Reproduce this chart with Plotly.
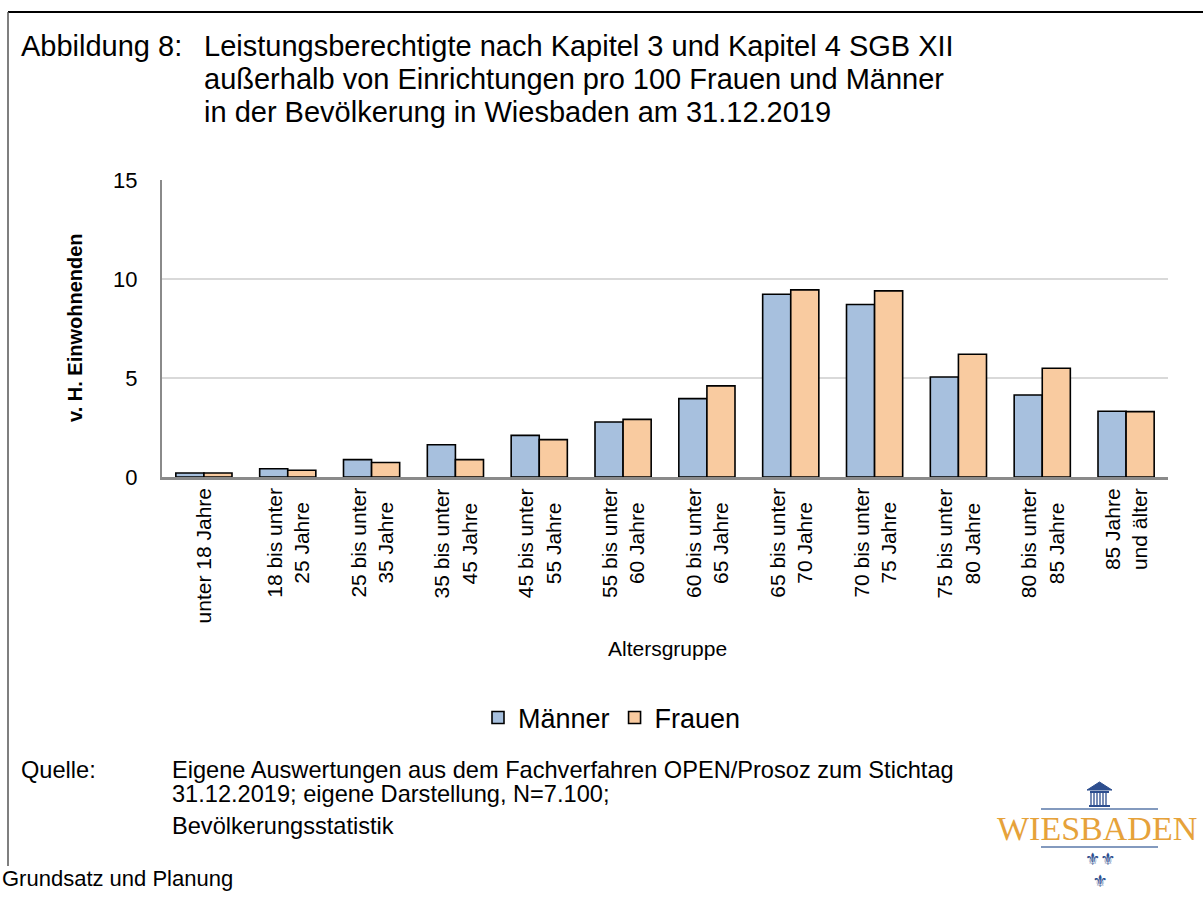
import plotly.graph_objects as go

categories = ["unter 18 Jahre", "18 bis unter 25 Jahre", "25 bis unter 35 Jahre",
              "35 bis unter 45 Jahre", "45 bis unter 55 Jahre", "55 bis unter 60 Jahre",
              "60 bis unter 65 Jahre", "65 bis unter 70 Jahre", "70 bis unter 75 Jahre",
              "75 bis unter 80 Jahre", "80 bis unter 85 Jahre", "85 Jahre und älter"]
tick_labels = ["unter 18 Jahre", "18 bis unter<br>25 Jahre", "25 bis unter<br>35 Jahre",
               "35 bis unter<br>45 Jahre", "45 bis unter<br>55 Jahre", "55 bis unter<br>60 Jahre",
               "60 bis unter<br>65 Jahre", "65 bis unter<br>70 Jahre", "70 bis unter<br>75 Jahre",
               "75 bis unter<br>80 Jahre", "80 bis unter<br>85 Jahre", "85 Jahre<br>und älter"]
maenner = [0.2, 0.42, 0.88, 1.63, 2.1, 2.78, 3.96, 9.23, 8.71, 5.05, 4.14, 3.32]
frauen = [0.2, 0.34, 0.73, 0.88, 1.89, 2.91, 4.6, 9.45, 9.4, 6.2, 5.49, 3.3]

W, H = 1203, 912
L, R, T, B = 162, 1168, 180, 477  # plot area in screen pixels
FONT = "Liberation Sans, Arial, sans-serif"


def px(x):
    return (x - L) / (R - L)


def py(y):
    return (B - y) / (B - T)


fig = go.Figure()
fig.add_trace(go.Bar(x=categories, y=maenner, name="Männer",
                     marker=dict(color="#A7C0DE", line=dict(color="#000000", width=1.6))))
fig.add_trace(go.Bar(x=categories, y=frauen, name="Frauen",
                     marker=dict(color="#F9CBA0", line=dict(color="#000000", width=1.6))))

ann = []
# tick labels (rotated, centered lines)
for c, t in zip(categories, tick_labels):
    ann.append(dict(x=c, xref="x", y=py(486), yref="paper", text=t, showarrow=False,
                    textangle=-90, xanchor="center", yanchor="top", align="center",
                    font=dict(family=FONT, size=21, color="#000000")))

# title
ann.append(dict(x=px(19), y=py(46), xref="paper", yref="paper", text="Abbildung 8:",
                showarrow=False, xanchor="left", yanchor="middle",
                font=dict(family=FONT, size=29, color="#000000")))
title_lines = ["Leistungsberechtigte nach Kapitel 3 und Kapitel 4 SGB XII",
               "außerhalb von Einrichtungen pro 100 Frauen und Männer",
               "in der Bevölkerung in Wiesbaden am 31.12.2019"]
for i, line in enumerate(title_lines):
    ann.append(dict(x=px(202), y=py(46 + 33 * i), xref="paper", yref="paper", text=line,
                    showarrow=False, xanchor="left", yanchor="middle",
                    font=dict(family=FONT, size=29, color="#000000")))

# axis titles
ann.append(dict(x=px(75), y=py(328), xref="paper", yref="paper", text="<b>v. H. Einwohnenden</b>",
                showarrow=False, textangle=-90, xanchor="center", yanchor="middle",
                font=dict(family=FONT, size=20, color="#000000")))
ann.append(dict(x=px(667), y=py(648), xref="paper", yref="paper", text="Altersgruppe",
                showarrow=False, xanchor="center", yanchor="middle",
                font=dict(family=FONT, size=21, color="#000000")))

# source block
ann.append(dict(x=px(19), y=py(770), xref="paper", yref="paper", text="Quelle:",
                showarrow=False, xanchor="left", yanchor="middle",
                font=dict(family=FONT, size=23.6, color="#000000")))
src_lines = [("Eigene Auswertungen aus dem Fachverfahren OPEN/Prosoz zum Stichtag", 770),
             ("31.12.2019; eigene Darstellung, N=7.100;", 794),
             ("Bevölkerungsstatistik", 826)]
for t, y in src_lines:
    ann.append(dict(x=px(170), y=py(y), xref="paper", yref="paper", text=t,
                    showarrow=False, xanchor="left", yanchor="middle",
                    font=dict(family=FONT, size=23.6, color="#000000")))
ann.append(dict(x=px(0), y=py(878), xref="paper", yref="paper", text="Grundsatz und Planung",
                showarrow=False, xanchor="left", yanchor="middle",
                font=dict(family=FONT, size=22, color="#000000")))

# logo
BLUE = "#2D4E8E"
GOLD = "#E6A23A"
ann.append(dict(x=px(1097), y=py(828), xref="paper", yref="paper", text="WIESBADEN",
                showarrow=False, xanchor="center", yanchor="middle",
                font=dict(family="Liberation Serif, Times New Roman, serif", size=34, color=GOLD)))
ann.append(dict(x=px(1099.5), y=py(870), xref="paper", yref="paper", text="⚜⚜<br>⚜",
                showarrow=False, xanchor="center", yanchor="middle", align="center",
                font=dict(family="DejaVu Sans", size=17, color=BLUE)))

shapes = []
# frame lines
shapes.append(dict(type="line", xref="paper", yref="paper", x0=px(8), x1=px(1210),
                   y0=py(12), y1=py(12), line=dict(color="#000000", width=2)))
shapes.append(dict(type="line", xref="paper", yref="paper", x0=px(8), x1=px(8),
                   y0=py(12), y1=py(866), line=dict(color="#555555", width=1.5)))
# logo lines
for yy in (809, 847):
    shapes.append(dict(type="line", xref="paper", yref="paper", x0=px(1041), x1=px(1158),
                       y0=py(yy), y1=py(yy), line=dict(color="#5A78A8", width=1.5)))
# building
shapes.append(dict(type="path", xref="paper", yref="paper",
                   path=f"M {px(1087)},{py(790)} L {px(1099.5)},{py(782)} L {px(1112)},{py(790)} Z",
                   fillcolor=BLUE, line=dict(color=BLUE, width=1)))
shapes.append(dict(type="rect", xref="paper", yref="paper", x0=px(1090), x1=px(1109),
                   y0=py(791), y1=py(793), fillcolor=BLUE, line=dict(width=0)))
for cx in range(1091, 1109, 3):
    shapes.append(dict(type="line", xref="paper", yref="paper", x0=px(cx), x1=px(cx),
                       y0=py(793), y1=py(805), line=dict(color=BLUE, width=1.3)))
shapes.append(dict(type="rect", xref="paper", yref="paper", x0=px(1089), x1=px(1110),
                   y0=py(805), y1=py(807), fillcolor=BLUE, line=dict(width=0)))

fig.update_layout(
    width=W, height=H,
    margin=dict(l=L, r=W - R, t=T, b=H - B, pad=0),
    paper_bgcolor="#FFFFFF", plot_bgcolor="#FFFFFF",
    barmode="group", bargap=0.33, bargroupgap=0,
    font=dict(family=FONT, color="#000000"),
    showlegend=True,
    legend=dict(orientation="h", x=px(612), xanchor="center", y=py(718), yanchor="middle",
                font=dict(family=FONT, size=27, color="#000000"), itemwidth=30,
                bgcolor="rgba(0,0,0,0)"),
    annotations=ann, shapes=shapes,
)
fig.update_xaxes(type="category", showticklabels=False, showline=True, linecolor="#8A8A8A",
                 linewidth=2.5, ticks="", showgrid=False, zeroline=False)
fig.update_yaxes(range=[0, 15], dtick=5, showgrid=True, gridcolor="#D9D9D9", gridwidth=1.5,
                 showline=True, linecolor="#8A8A8A", linewidth=2, ticks="", zeroline=False,
                 tickfont=dict(family=FONT, size=22, color="#000000"), ticklabelstandoff=18)

fig.write_html("out.html", config={"displayModeBar": False},
               post_script="document.body.style.margin='0';document.body.style.overflow='hidden';")
